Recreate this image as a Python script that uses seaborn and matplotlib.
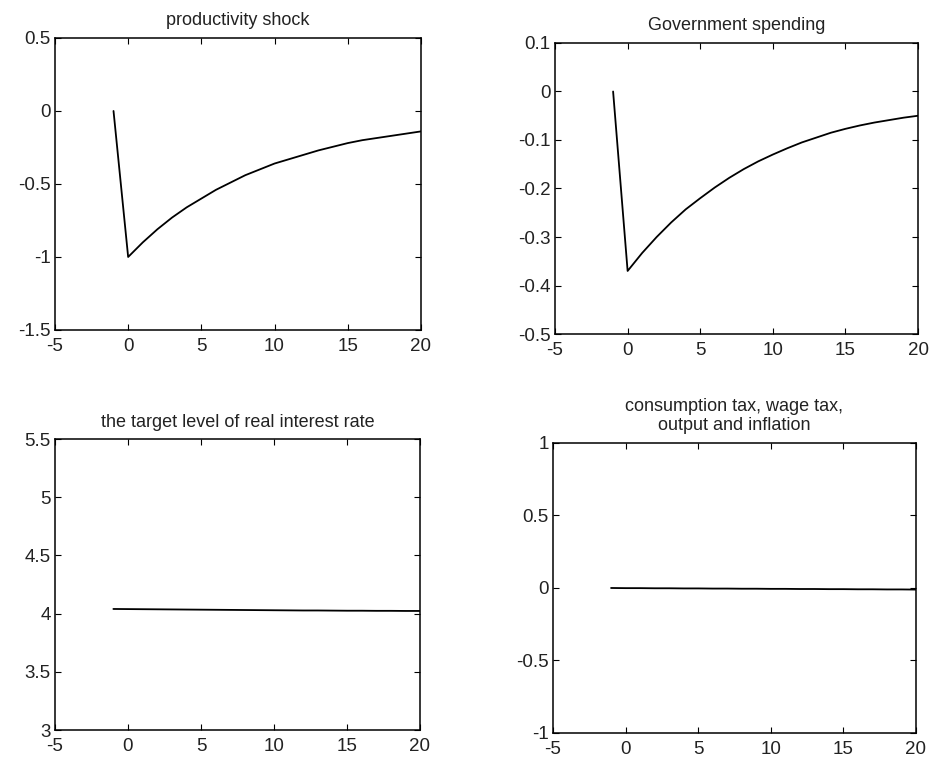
import numpy as np
import pandas as pd
import seaborn as sns
import matplotlib
matplotlib.use('Agg')
import matplotlib.pyplot as plt

# periods after the shock
periods = list(range(-1, 21))

# impulse responses
productivity = [0, -1.0, -0.90, -0.81, -0.73, -0.66, -0.60, -0.54, -0.49, -0.44, -0.40,
                -0.36, -0.33, -0.30, -0.27, -0.245, -0.22, -0.20, -0.185, -0.17, -0.155, -0.14]
gov_spending = [0, -0.37, -0.333, -0.30, -0.27, -0.243, -0.22, -0.198, -0.178, -0.16, -0.144,
                -0.13, -0.117, -0.105, -0.095, -0.085, -0.077, -0.07, -0.064, -0.059, -0.054, -0.05]
real_rate = [4.04, 4.039, 4.038, 4.037, 4.036, 4.035, 4.034, 4.033, 4.032, 4.031, 4.030,
             4.029, 4.028, 4.027, 4.027, 4.026, 4.025, 4.025, 4.024, 4.024, 4.023, 4.023]
taxes_output = [0, -0.001, -0.001, -0.002, -0.002, -0.003, -0.003, -0.004, -0.004, -0.005, -0.005,
                -0.006, -0.006, -0.007, -0.007, -0.008, -0.008, -0.009, -0.009, -0.010, -0.010, -0.011]

titles = ['productivity shock', 'Government spending',
          'the target level of real interest rate',
          'consumption tax, wage tax,\noutput and inflation']
ylims = [(-1.5, 0.5), (-0.5, 0.1), (3, 5.5), (-1, 1)]
yticks = [[-1.5, -1, -0.5, 0, 0.5],
          [-0.5, -0.4, -0.3, -0.2, -0.1, 0, 0.1],
          [3, 3.5, 4, 4.5, 5, 5.5],
          [-1, -0.5, 0, 0.5, 1]]
xticks = [-5, 0, 5, 10, 15, 20]

sns.set_style('ticks')
plt.rcParams['font.family'] = ['Liberation Sans', 'DejaVu Sans']

fig = plt.figure(figsize=(9.3, 7.61), dpi=100)
rects = [[0.0591, 0.5664, 0.3935, 0.3837],
         [0.5968, 0.5611, 0.3903, 0.3824],
         [0.0591, 0.0407, 0.3925, 0.3824],
         [0.5946, 0.0368, 0.3903, 0.3811]]
series = [productivity, gov_spending, real_rate, taxes_output]

for rect, ys, title, ylim, yt in zip(rects, series, titles, ylims, yticks):
    ax = fig.add_axes(rect)
    df = pd.DataFrame({'t': periods, 'v': ys})
    sns.lineplot(data=df, x='t', y='v', ax=ax, color='black', linewidth=1.3)
    ax.set_xlim(-5, 20)
    ax.set_ylim(*ylim)
    ax.set_xticks(xticks)
    ax.set_xticklabels([('%g' % v) for v in xticks])
    ax.set_yticks(yt)
    ax.set_yticklabels([('%g' % v) for v in yt])
    ax.set_xlabel('')
    ax.set_ylabel('')
    ax.set_title(title, fontsize=13, pad=9, color='#222222')
    ax.tick_params(direction='in', top=True, right=True, length=4, width=0.8,
                   labelsize=13.5, colors='black', labelcolor='#222222')
    ax.tick_params(axis='x', pad=6)
    ax.tick_params(axis='y', pad=3)
    for s in ax.spines.values():
        s.set_visible(True)
        s.set_linewidth(1.1)
        s.set_color('black')

fig.savefig('out.png', dpi=100)
